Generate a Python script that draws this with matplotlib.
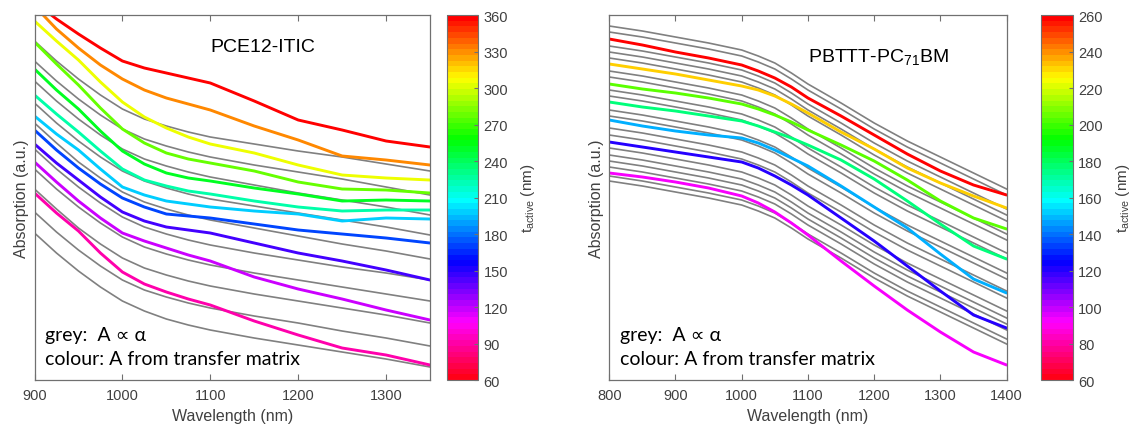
import matplotlib
matplotlib.use("Agg")
from matplotlib import pyplot as plt
from matplotlib import cm, colors

# ---- left panel: PCE12-ITIC ----
left_x = [900, 925, 950, 975, 1000, 1025, 1050, 1075, 1100, 1150, 1200, 1250, 1300, 1350]
left_t = [360, 333, 306, 279, 252, 225, 198, 171, 144, 117, 90]
left_colour_vals = [
    [378, 361, 346, 332, 319, 312, 307, 302, 297, 279, 260, 250, 239, 233],
    [374, 351, 332, 315, 301, 290, 282, 276, 270, 254, 240, 224, 220, 215],
    [359, 339, 320, 298, 278, 263, 252, 243, 236, 227, 215, 205, 202, 200],
    [338, 316, 295, 272, 251, 237, 227, 221, 217, 209, 198, 191, 190, 187],
    [311, 290, 271, 249, 229, 216, 207, 202, 199, 192, 186, 179, 180, 179],
    [285, 266, 248, 229, 211, 200, 194, 189, 186, 179, 173, 169, 170, 170],
    [264, 246, 230, 211, 193, 185, 179, 176, 173, 169, 166, 159, 162, 161],
    [250, 230, 212, 196, 182, 173, 166, 164, 162, 156, 150, 146, 142, 137],
    [236, 217, 200, 183, 168, 159, 153, 150, 147, 137, 127, 119, 110, 100],
    [218, 198, 179, 162, 147, 139, 132, 125, 119, 103, 91, 81, 70, 60],
    [187, 167, 149, 127, 108, 96, 88, 81, 75, 59, 45, 32, 25, 15],
]
left_grey_vals = [
    [339, 319, 301, 285, 271, 261, 254, 248, 243, 236, 229, 223, 216, 209],
    [319, 299, 281, 265, 251, 241, 234, 228, 223, 215, 208, 201, 193, 185],
    [299, 279, 261, 245, 231, 221, 214, 208, 203, 195, 187, 180, 173, 165],
    [277, 257, 239, 223, 209, 199, 192, 186, 181, 174, 167, 160, 153, 145],
    [257, 237, 218, 202, 188, 178, 171, 165, 160, 152, 144, 136, 129, 121],
    [231, 211, 193, 177, 163, 153, 146, 140, 135, 127, 120, 113, 107, 100],
    [211, 191, 173, 157, 143, 133, 126, 120, 115, 107, 100, 93, 86, 79],
    [191, 171, 152, 136, 122, 112, 105, 99, 94, 86, 79, 72, 65, 57],
    [168, 148, 130, 114, 100, 90, 83, 77, 72, 64, 57, 49, 42, 34],
    [147, 127, 109, 93, 79, 69, 61, 55, 50, 42, 35, 28, 21, 13],
]

# ---- right panel: PBTTT-PC71BM ----
right_x = [800, 850, 900, 950, 1000, 1025, 1050, 1075, 1100, 1150, 1200, 1250, 1300, 1350, 1400]
right_t = [260, 232, 204, 176, 148, 120, 92]
right_colour_vals = [
    [341, 335, 328, 322, 315, 309, 302, 293, 282, 264, 245, 226, 209, 195, 185],
    [316, 311, 306, 300, 294, 290, 284, 276, 267, 248, 231, 212, 197, 184, 172],
    [296, 291, 287, 282, 276, 271, 265, 258, 250, 235, 219, 200, 179, 162, 151],
    [278, 273, 269, 264, 259, 254, 248, 242, 235, 220, 201, 179, 156, 134, 121],
    [260, 254, 249, 245, 242, 237, 230, 222, 214, 194, 173, 152, 126, 101, 87],
    [238, 233, 228, 223, 218, 212, 204, 195, 185, 162, 139, 114, 89, 65, 52],
    [207, 203, 198, 192, 184, 177, 168, 157, 145, 119, 94, 70, 48, 28, 15],
]
right_grey_vals = [
    [354, 349, 343, 337, 330, 324, 317, 307, 296, 277, 257, 239, 223, 207, 191],
    [348, 343, 337, 331, 324, 318, 311, 301, 290, 271, 251, 233, 217, 201, 185],
    [334, 329, 323, 317, 310, 304, 297, 287, 276, 257, 237, 219, 203, 187, 171],
    [328, 323, 317, 311, 304, 298, 291, 281, 270, 251, 231, 213, 197, 181, 165],
    [322, 317, 311, 305, 298, 292, 285, 275, 264, 245, 225, 207, 191, 175, 159],
    [309, 304, 298, 292, 285, 279, 272, 262, 251, 232, 212, 194, 178, 162, 146],
    [303, 298, 292, 286, 279, 273, 266, 256, 245, 226, 206, 188, 172, 156, 140],
    [290, 285, 279, 273, 266, 260, 253, 243, 232, 213, 193, 175, 159, 143, 127],
    [284, 279, 273, 267, 260, 254, 247, 237, 226, 207, 187, 169, 153, 137, 121],
    [270, 265, 259, 253, 246, 240, 233, 223, 212, 193, 173, 155, 139, 123, 107],
    [264, 259, 253, 247, 240, 234, 227, 217, 206, 187, 167, 149, 133, 117, 101],
    [252, 247, 241, 235, 228, 222, 215, 205, 194, 175, 155, 137, 121, 105, 89],
    [245, 240, 234, 228, 221, 215, 208, 198, 187, 168, 148, 130, 114, 98, 82],
    [232, 227, 221, 215, 208, 202, 195, 185, 174, 155, 135, 117, 101, 85, 69],
    [225, 220, 214, 208, 201, 195, 188, 178, 167, 148, 128, 110, 94, 78, 62],
    [219, 214, 208, 202, 195, 189, 182, 172, 161, 142, 122, 104, 88, 72, 56],
    [213, 208, 202, 196, 189, 183, 176, 166, 155, 136, 116, 98, 82, 66, 50],
    [204, 199, 193, 187, 180, 174, 167, 157, 146, 127, 107, 89, 73, 57, 41],
    [199, 194, 188, 182, 175, 169, 162, 152, 141, 122, 102, 84, 68, 52, 36],
]

plt.rcParams['font.family'] = ['Liberation Sans', 'DejaVu Sans']
txt_col = '#404040'
note_font = ['Lato', 'DejaVu Sans']

fig = plt.figure(figsize=(11.35, 4.35), dpi=100)


def panel(rect, cb_rect, xs, t_vals, col_vals, grey_vals, tmin, tmax, cticks,
          xlim, xticks, title, title_xy):
    ax = fig.add_axes(rect)
    cmap = plt.get_cmap('hsv_r')
    norm = colors.Normalize(tmin, tmax)
    # grey: A proportional to alpha, colour: transfer matrix result
    for g in grey_vals:
        ax.plot(xs, g, color='#808080', lw=1.2, solid_joinstyle='round')
    for t, c in zip(t_vals, col_vals):
        ax.plot(xs, c, color=cmap(norm(t)), lw=2.1, solid_joinstyle='round',
                solid_capstyle='round')
    ax.set_xlim(*xlim)
    ax.set_ylim(0, 365)
    ax.set_xticks(xticks)
    ax.set_yticks([])
    ax.tick_params(axis='x', direction='in', top=True, length=4, width=0.8,
                   colors='#707070', labelcolor=txt_col, labelsize=10.5, pad=6)
    for s in ax.spines.values():
        s.set_color('#707070')
        s.set_linewidth(0.9)
    ax.set_xlabel('Wavelength (nm)', fontsize=11.5, color=txt_col, labelpad=4)
    ax.set_ylabel('Absorption (a.u.)', fontsize=11.5, color=txt_col, labelpad=4)
    ax.text(title_xy[0], title_xy[1], title, fontsize=14, color='black',
            ha='left', va='center')
    ax.text(0.027, 0.125, 'grey:  A \u221d \u03b1', transform=ax.transAxes,
            family=note_font, fontsize=14, color='black', va='center')
    ax.text(0.027, 0.058, 'colour: A from transfer matrix', transform=ax.transAxes,
            family=note_font, fontsize=14, color='black', va='center')

    cax = fig.add_axes(cb_rect)
    sm = cm.ScalarMappable(norm=norm, cmap=plt.get_cmap('hsv_r', 64))
    cb = fig.colorbar(sm, cax=cax, ticks=cticks)
    cb.outline.set_edgecolor('#707070')
    cb.outline.set_linewidth(0.8)
    cax.tick_params(direction='in', length=3, width=0.8, colors='#707070',
                    labelcolor=txt_col, labelsize=10.5, pad=4)
    cb.set_label(r't$_{\mathregular{active}}$ (nm)', fontsize=11, color=txt_col,
                 labelpad=8)
    return ax


panel([0.0304, 0.1241, 0.3485, 0.8391], [0.3936, 0.1241, 0.0276, 0.8391],
      left_x, left_t, left_colour_vals, left_grey_vals, 60, 360,
      list(range(60, 361, 30)), (900, 1350), [900, 1000, 1100, 1200, 1300],
      'PCE12-ITIC', (1100, 334))

panel([0.5368, 0.1241, 0.3501, 0.8391], [0.9169, 0.1241, 0.0282, 0.8391],
      right_x, right_t, right_colour_vals, right_grey_vals, 60, 260,
      list(range(60, 261, 20)), (800, 1400),
      [800, 900, 1000, 1100, 1200, 1300, 1400],
      r'PBTTT-PC$_{\mathregular{71}}$BM', (1100, 323))

fig.savefig('out.png', dpi=100)
